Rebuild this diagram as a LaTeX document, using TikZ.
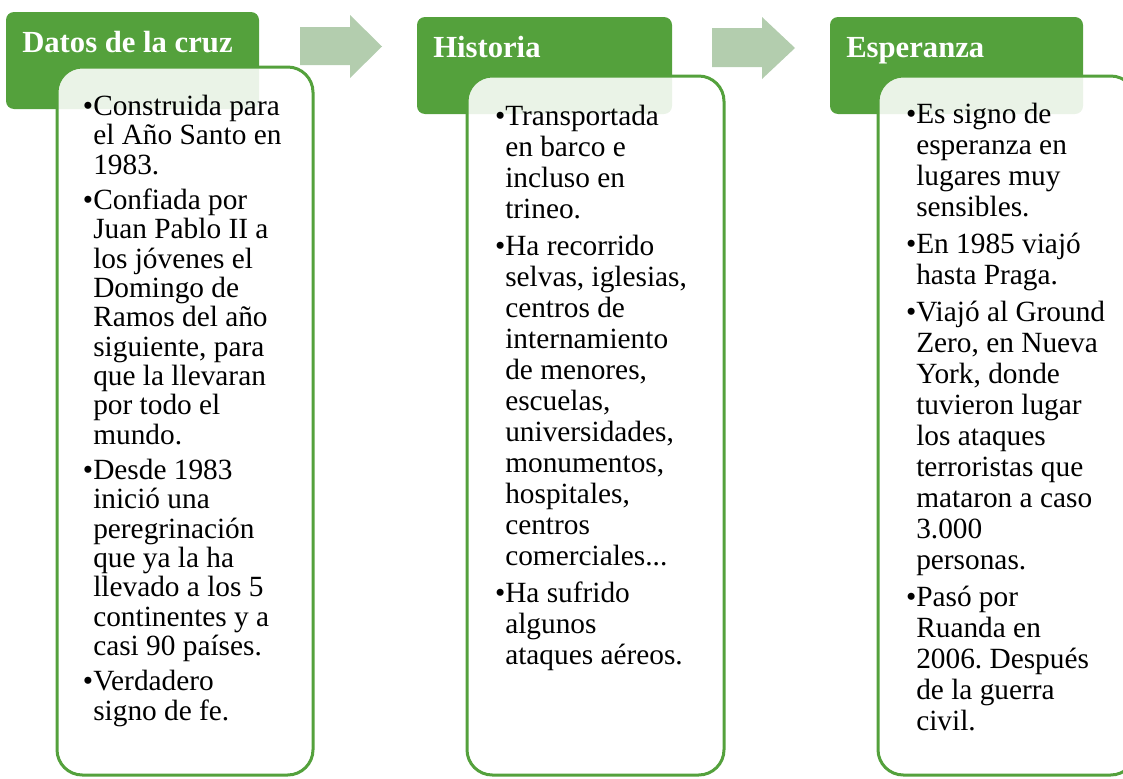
\documentclass[tikz,border=0pt]{standalone}
\usepackage{fontspec}
\setmainfont{Liberation Serif}
\frenchspacing
\usetikzlibrary{positioning}
\definecolor{verde}{HTML}{54A13C}
\definecolor{verdeclaro}{HTML}{B3CDAE}
\tikzset{
	cabecera/.style={fill=verde, rounded corners=6pt},
	titulo/.style={
		anchor=base west,
		inner sep=0pt,
		text=white,
		font=\fontsize{23}{23}\selectfont\bfseries},
	panel/.style={
		draw=verde, line width=2.25pt,
		fill=white, fill opacity=0.88,
		rounded corners=19pt},
	% anclada en la linea base de la ultima linea
	lista/.style={anchor=base west, inner sep=0pt, align=left},
	flecha/.style={fill=verdeclaro},
}
\newcommand{\punto}{\llap{\textbullet}}

\begin{document}
\begin{tikzpicture}[x=0.75pt, y=-0.75pt]
	\useasboundingbox (0,0) rectangle (1123,778);
	% cabeceras
	\fill[cabecera] (6,12) rectangle (259,109);
	\fill[cabecera] (417,17) rectangle (672,114);
	\fill[cabecera] (830,17) rectangle (1083,114);
	\node[titulo] (datos) at (22,52) {Datos de la cruz};
	\node[titulo] (historia) at (433,57) {Historia};
	\node[titulo] (esperanza) at (846,57) {Esperanza};
	% flechas
	\fill[flecha] (300,27) -- (350,27) -- (350,15) -- (382,46.5) -- (350,78) -- (350,65) -- (300,65) -- cycle;
	\fill[flecha] (712,28) -- (762,28) -- (762,17) -- (795,48) -- (762,79) -- (762,67) -- (712,67) -- cycle;
	% paneles
	\draw[panel] (57,67) rectangle (313,775);
	\draw[panel] (467,76) rectangle (724,775);
	\draw[panel] (878,76) rectangle (1136,775);
	\node[lista, font=\fontsize{22}{22}\selectfont] (datoslista) at (93,720) {%
		\punto Construida para\\ el Año Santo en\\ 1983.\\[4.5pt]
		\punto Confiada por\\ Juan Pablo II a\\ los jóvenes el\\ Domingo de\\ Ramos del año\\ siguiente, para\\ que la llevaran\\ por todo el\\ mundo.\\[4.5pt]
		\punto Desde 1983\\ inició una\\ peregrinación\\ que ya la ha\\ llevado a los 5\\ continentes y a\\ casi 90 países.\\[4.5pt]
		\punto Verdadero\\ signo de fe.};
	\node[lista, font=\fontsize{22}{23.25}\selectfont] (historialista) at (505,664) {%
		\punto Transportada\\ en barco e\\ incluso en\\ trineo.\\[4.5pt]
		\punto Ha recorrido\\ selvas, iglesias,\\ centros de\\ internamiento\\ de menores,\\ escuelas,\\ universidades,\\ monumentos,\\ hospitales,\\ centros\\ comerciales...\\[4.5pt]
		\punto Ha sufrido\\ algunos\\ ataques aéreos.};
	\node[lista, font=\fontsize{22}{23.25}\selectfont] (esperanzalista) at (916,730) {%
		\punto Es signo de\\ esperanza en\\ lugares muy\\ sensibles.\\[4.5pt]
		\punto En 1985 viajó\\ hasta Praga.\\[4.5pt]
		\punto Viajó al Ground\\ Zero, en Nueva\\ York, donde\\ tuvieron lugar\\ los ataques\\ terroristas que\\ mataron a caso\\ 3.000\\ personas.\\[4.5pt]
		\punto Pasó por\\ Ruanda en\\ 2006. Después\\ de la guerra\\ civil.};
\end{tikzpicture}
\end{document}
